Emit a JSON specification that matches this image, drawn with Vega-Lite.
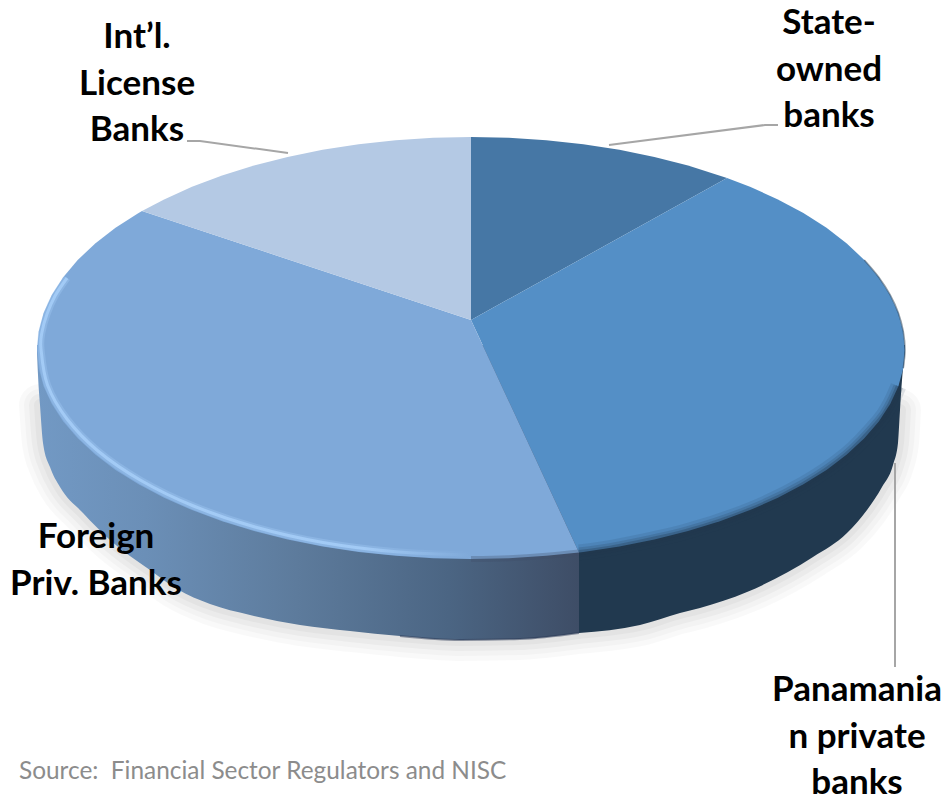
{
  "$schema": "https://vega.github.io/schema/vega-lite/v6.json",
  "width": 946,
  "height": 799,
  "padding": 0,
  "autosize": {"type": "none"},
  "background": "white",
  "view": {"stroke": null},
  "datasets": {
    "top": [
      {"slice":"State-owned","seq":0,"x":471,"y":320},{"slice":"State-owned","seq":1,"x":471,"y":137},{"slice":"State-owned","seq":2,"x":508.8,"y":137.8},{"slice":"State-owned","seq":3,"x":546.3,"y":140.2},{"slice":"State-owned","seq":4,"x":583.3,"y":144.3},{"slice":"State-owned","seq":5,"x":619.4,"y":149.8},{"slice":"State-owned","seq":6,"x":654.4,"y":157},{"slice":"State-owned","seq":7,"x":688,"y":165.5},{"slice":"State-owned","seq":8,"x":727,"y":178},
      {"slice":"Panamanian","seq":0,"x":471,"y":320},{"slice":"Panamanian","seq":1,"x":727,"y":178},{"slice":"Panamanian","seq":2,"x":750,"y":186.8},{"slice":"Panamanian","seq":3,"x":777.9,"y":199.4},{"slice":"Panamanian","seq":4,"x":803.4,"y":213.1},{"slice":"Panamanian","seq":5,"x":826.5,"y":227.8},{"slice":"Panamanian","seq":6,"x":846.8,"y":243.5},{"slice":"Panamanian","seq":7,"x":864.3,"y":260},{"slice":"Panamanian","seq":8,"x":878.8,"y":277.2},{"slice":"Panamanian","seq":9,"x":890.2,"y":294.9},{"slice":"Panamanian","seq":10,"x":898.4,"y":313},{"slice":"Panamanian","seq":11,"x":903.3,"y":331.4},{"slice":"Panamanian","seq":12,"x":905,"y":350},{"slice":"Panamanian","seq":13,"x":903.3,"y":368.2},{"slice":"Panamanian","seq":14,"x":898.4,"y":386.3},{"slice":"Panamanian","seq":15,"x":890.2,"y":404.1},{"slice":"Panamanian","seq":16,"x":878.8,"y":421.5},{"slice":"Panamanian","seq":17,"x":864.3,"y":438.3},{"slice":"Panamanian","seq":18,"x":846.8,"y":454.5},{"slice":"Panamanian","seq":19,"x":826.5,"y":469.9},{"slice":"Panamanian","seq":20,"x":803.4,"y":484.3},{"slice":"Panamanian","seq":21,"x":777.9,"y":497.8},{"slice":"Panamanian","seq":22,"x":750,"y":510.1},{"slice":"Panamanian","seq":23,"x":719.9,"y":521.2},{"slice":"Panamanian","seq":24,"x":688,"y":531},{"slice":"Panamanian","seq":25,"x":654.4,"y":539.4},{"slice":"Panamanian","seq":26,"x":619.4,"y":546.4},{"slice":"Panamanian","seq":27,"x":583.3,"y":551.9},{"slice":"Panamanian","seq":28,"x":579,"y":552.4},
      {"slice":"Foreign","seq":0,"x":471,"y":320},{"slice":"Foreign","seq":1,"x":579,"y":552.4},{"slice":"Foreign","seq":2,"x":546.3,"y":555.8},{"slice":"Foreign","seq":3,"x":508.8,"y":558.2},{"slice":"Foreign","seq":4,"x":471,"y":559},{"slice":"Foreign","seq":5,"x":433.2,"y":558.2},{"slice":"Foreign","seq":6,"x":395.7,"y":555.8},{"slice":"Foreign","seq":7,"x":358.7,"y":551.9},{"slice":"Foreign","seq":8,"x":322.6,"y":546.4},{"slice":"Foreign","seq":9,"x":287.6,"y":539.4},{"slice":"Foreign","seq":10,"x":254,"y":531},{"slice":"Foreign","seq":11,"x":222.1,"y":521.2},{"slice":"Foreign","seq":12,"x":192,"y":510.1},{"slice":"Foreign","seq":13,"x":164.1,"y":497.8},{"slice":"Foreign","seq":14,"x":138.6,"y":484.3},{"slice":"Foreign","seq":15,"x":115.5,"y":469.9},{"slice":"Foreign","seq":16,"x":95.2,"y":454.5},{"slice":"Foreign","seq":17,"x":77.7,"y":438.3},{"slice":"Foreign","seq":18,"x":63.2,"y":421.5},{"slice":"Foreign","seq":19,"x":51.8,"y":404.1},{"slice":"Foreign","seq":20,"x":43.6,"y":386.3},{"slice":"Foreign","seq":21,"x":38.7,"y":368.2},{"slice":"Foreign","seq":22,"x":37,"y":350},{"slice":"Foreign","seq":23,"x":38.7,"y":331.4},{"slice":"Foreign","seq":24,"x":43.6,"y":313},{"slice":"Foreign","seq":25,"x":51.8,"y":294.9},{"slice":"Foreign","seq":26,"x":63.2,"y":277.2},{"slice":"Foreign","seq":27,"x":77.7,"y":260},{"slice":"Foreign","seq":28,"x":95.2,"y":243.5},{"slice":"Foreign","seq":29,"x":115.5,"y":227.8},{"slice":"Foreign","seq":30,"x":138.6,"y":213.1},{"slice":"Foreign","seq":31,"x":142,"y":211},
      {"slice":"Intl","seq":0,"x":471,"y":320},{"slice":"Intl","seq":1,"x":142,"y":211},{"slice":"Intl","seq":2,"x":164.1,"y":199.4},{"slice":"Intl","seq":3,"x":192,"y":186.8},{"slice":"Intl","seq":4,"x":222.1,"y":175.5},{"slice":"Intl","seq":5,"x":254,"y":165.5},{"slice":"Intl","seq":6,"x":287.6,"y":157},{"slice":"Intl","seq":7,"x":322.6,"y":149.8},{"slice":"Intl","seq":8,"x":358.7,"y":144.3},{"slice":"Intl","seq":9,"x":395.7,"y":140.2},{"slice":"Intl","seq":10,"x":433.2,"y":137.8},{"slice":"Intl","seq":11,"x":471,"y":137}
    ],
    "foot": [
      {"slice":"Foreign","seq":0,"x":37,"y":352,"shoulder":345},{"slice":"Foreign","seq":1,"x":38,"y":375,"shoulder":345},{"slice":"Foreign","seq":2,"x":40,"y":405,"shoulder":345},{"slice":"Foreign","seq":3,"x":43,"y":443,"shoulder":345},{"slice":"Foreign","seq":4,"x":50,"y":467,"shoulder":345},{"slice":"Foreign","seq":5,"x":60,"y":487,"shoulder":345},{"slice":"Foreign","seq":6,"x":83,"y":513,"shoulder":345},{"slice":"Foreign","seq":7,"x":110,"y":540,"shoulder":345},{"slice":"Foreign","seq":8,"x":150,"y":570,"shoulder":345},{"slice":"Foreign","seq":9,"x":177,"y":589,"shoulder":345},{"slice":"Foreign","seq":10,"x":210,"y":604,"shoulder":345},{"slice":"Foreign","seq":11,"x":250,"y":615,"shoulder":345},{"slice":"Foreign","seq":12,"x":300,"y":625,"shoulder":345},{"slice":"Foreign","seq":13,"x":350,"y":631,"shoulder":345},{"slice":"Foreign","seq":14,"x":400,"y":636,"shoulder":345},{"slice":"Foreign","seq":15,"x":460,"y":640,"shoulder":345},{"slice":"Foreign","seq":16,"x":520,"y":639,"shoulder":345},{"slice":"Foreign","seq":17,"x":579,"y":633,"shoulder":345},
      {"slice":"Panamanian","seq":18,"x":579,"y":633,"shoulder":345},{"slice":"Panamanian","seq":19,"x":640,"y":625,"shoulder":345},{"slice":"Panamanian","seq":20,"x":680,"y":613,"shoulder":345},{"slice":"Panamanian","seq":21,"x":700,"y":608,"shoulder":345},{"slice":"Panamanian","seq":22,"x":747,"y":592,"shoulder":345},{"slice":"Panamanian","seq":23,"x":813,"y":557,"shoulder":345},{"slice":"Panamanian","seq":24,"x":847,"y":533,"shoulder":345},{"slice":"Panamanian","seq":25,"x":867,"y":510,"shoulder":345},{"slice":"Panamanian","seq":26,"x":882,"y":487,"shoulder":345},{"slice":"Panamanian","seq":27,"x":893,"y":465,"shoulder":345},{"slice":"Panamanian","seq":28,"x":898,"y":443,"shoulder":345},{"slice":"Panamanian","seq":29,"x":900,"y":410,"shoulder":345},{"slice":"Panamanian","seq":30,"x":902,"y":380,"shoulder":345},{"slice":"Panamanian","seq":31,"x":904,"y":360,"shoulder":345},{"slice":"Panamanian","seq":32,"x":905,"y":352,"shoulder":345}
    ],
    "glint": [
      {"seq":0,"x":67,"y":278},{"seq":1,"x":55,"y":296},{"seq":2,"x":47,"y":314},{"seq":3,"x":42,"y":332},{"seq":4,"x":41,"y":349},{"seq":5,"x":47.5,"y":385},{"seq":6,"x":67,"y":419},{"seq":7,"x":98,"y":451},{"seq":8,"x":141,"y":480.5},{"seq":9,"x":193.5,"y":506},{"seq":10,"x":255,"y":527},{"seq":11,"x":323,"y":542.5},{"seq":12,"x":396,"y":551.8},{"seq":13,"x":471,"y":555}
    ],
    "edge": [
      {"seq":0,"x":579,"y":552.4},{"seq":1,"x":619.4,"y":546.4},{"seq":2,"x":688,"y":531},{"seq":3,"x":750,"y":510.1},{"seq":4,"x":803.4,"y":484.3},{"seq":5,"x":846.8,"y":454.5},{"seq":6,"x":878.8,"y":421.5},{"seq":7,"x":890.2,"y":404.1},{"seq":8,"x":898.4,"y":386.3}
    ],
    "seam": [
      {"seq":0,"x":471,"y":559},{"seq":1,"x":508.8,"y":558.2},{"seq":2,"x":546.3,"y":555.8},{"seq":3,"x":579,"y":552.4}
    ],
    "crown": [
      {"seq":0,"x":903.3,"y":368.2},{"seq":1,"x":905,"y":350},{"seq":2,"x":903.3,"y":331.4},{"seq":3,"x":898.4,"y":313},{"seq":4,"x":890.2,"y":294.9},{"seq":5,"x":878.8,"y":277.2},{"seq":6,"x":864.3,"y":260}
    ],
    "leaders": [
      {"label":"Intl","seq":0,"x":187,"y":141},{"label":"Intl","seq":1,"x":200,"y":141},{"label":"Intl","seq":2,"x":288,"y":153},
      {"label":"State","seq":0,"x":778,"y":125},{"label":"State","seq":1,"x":765,"y":125},{"label":"State","seq":2,"x":609,"y":145},
      {"label":"Panamanian","seq":0,"x":895,"y":463},{"label":"Panamanian","seq":1,"x":895,"y":667}
    ],
    "labels": [
      {"text":"Int’l.\nLicense\nBanks","x":137,"y":37},
      {"text":"State-\nowned\nbanks","x":829,"y":23},
      {"text":"Foreign\nPriv. Banks","x":96,"y":537},
      {"text":"Panamania\nn private\nbanks","x":857,"y":690}
    ],
    "note": [{"text":"Source:\u00a0 Financial Sector Regulators and NISC","x":19,"y":772}]
  },
  "encoding": {
    "x": {"field":"x","type":"quantitative","axis":null,"scale":{"domain":[0,946],"nice":false,"zero":false}},
    "y": {"field":"y","type":"quantitative","axis":null,"scale":{"domain":[799,0],"nice":false,"zero":false}}
  },
  "layer": [
    {"description":"Soft ground shadow, built from widening translucent strokes along the foot of the wall",
     "data":{"name":"foot"},"transform":[{"filter":"datum.y >= 400"}],
     "mark":{"type":"line","stroke":"#000000","strokeWidth":42,"strokeCap":"round","opacity":0.025,"interpolate":"monotone"},
     "encoding":{"order":{"field":"seq","type":"quantitative"}}},
    {"data":{"name":"foot"},"transform":[{"filter":"datum.y >= 400"}],
     "mark":{"type":"line","stroke":"#000000","strokeWidth":32,"strokeCap":"round","opacity":0.025,"interpolate":"monotone"},
     "encoding":{"order":{"field":"seq","type":"quantitative"}}},
    {"data":{"name":"foot"},"transform":[{"filter":"datum.y >= 400"}],
     "mark":{"type":"line","stroke":"#000000","strokeWidth":22,"strokeCap":"round","opacity":0.03,"interpolate":"monotone"},
     "encoding":{"order":{"field":"seq","type":"quantitative"}}},
    {"data":{"name":"foot"},"transform":[{"filter":"datum.y >= 400"}],
     "mark":{"type":"line","stroke":"#000000","strokeWidth":12,"strokeCap":"round","opacity":0.03,"interpolate":"monotone"},
     "encoding":{"order":{"field":"seq","type":"quantitative"}}},
    {"description":"Side wall of the Foreign slice, darkening to the right",
     "data":{"name":"foot"},"transform":[{"filter":"datum.slice === 'Foreign'"}],
     "mark":{"type":"area","interpolate":"monotone","color":{"gradient":"linear","x1":0,"x2":1,"y1":0,"y2":0,"stops":[
        {"offset":0,"color":"#7299c4"},{"offset":0.2,"color":"#6b8fb7"},{"offset":0.48,"color":"#5d7b9c"},{"offset":0.76,"color":"#4b6583"},{"offset":1,"color":"#3e4d66"}]}},
     "encoding":{"y2":{"field":"shoulder"}}},
    {"description":"Side wall of the Panamanian slice",
     "data":{"name":"foot"},"transform":[{"filter":"datum.slice === 'Panamanian'"}],
     "mark":{"type":"area","interpolate":"monotone","color":"#21394f"},
     "encoding":{"y2":{"field":"shoulder"}}},
    {"description":"Darker lip along the foot of the Foreign wall",
     "data":{"name":"foot"},"transform":[{"filter":"datum.slice === 'Foreign' && datum.x >= 400"}],
     "mark":{"type":"line","interpolate":"monotone","strokeWidth":2,"opacity":0.5,"stroke":"#2b3a55"},
     "encoding":{"order":{"field":"seq","type":"quantitative"}}},
    {"description":"Top faces of the four slices",
     "data":{"name":"top"},
     "mark":{"type":"line","filled":true,"strokeWidth":0},
     "encoding":{
       "order":{"field":"seq","type":"quantitative"},
       "color":{"field":"slice","type":"nominal","legend":null,
         "scale":{"domain":["State-owned","Panamanian","Foreign","Intl"],"range":["#4677a5","#548fc6","#7fa9d9","#b4c9e4"]}}}},
    {"description":"Bevel glint on the near-left rim, fading out toward the front",
     "data":{"name":"glint"},
     "mark":{"type":"line","interpolate":"cardinal","strokeWidth":7,"opacity":0.3,"stroke":{"gradient":"linear","x1":0,"x2":1,"y1":0,"y2":0,"stops":[
        {"offset":0,"color":"#a8d0fa"},{"offset":0.75,"color":"#a8d0fa"},{"offset":1,"color":"#7fa9d9"}]}},
     "encoding":{"order":{"field":"seq","type":"quantitative"}}},
    {"data":{"name":"glint"},
     "mark":{"type":"line","interpolate":"cardinal","strokeWidth":3,"opacity":0.8,"stroke":{"gradient":"linear","x1":0,"x2":1,"y1":0,"y2":0,"stops":[
        {"offset":0,"color":"#a8d0fa"},{"offset":0.75,"color":"#a8d0fa"},{"offset":1,"color":"#7fa9d9"}]}},
     "encoding":{"order":{"field":"seq","type":"quantitative"}}},
    {"description":"Dark bevel on the near-right rim",
     "data":{"name":"edge"},
     "mark":{"type":"line","interpolate":"cardinal","strokeWidth":16,"opacity":0.12,"stroke":"#21394f"},
     "encoding":{"order":{"field":"seq","type":"quantitative"}}},
    {"data":{"name":"edge"},
     "mark":{"type":"line","interpolate":"cardinal","strokeWidth":10,"opacity":0.18,"stroke":"#21394f"},
     "encoding":{"order":{"field":"seq","type":"quantitative"}}},
    {"data":{"name":"edge"},
     "mark":{"type":"line","interpolate":"cardinal","strokeWidth":5,"opacity":0.3,"stroke":"#21394f"},
     "encoding":{"order":{"field":"seq","type":"quantitative"}}},
    {"description":"Soft seam where the Foreign face meets its wall at the front",
     "data":{"name":"seam"},
     "mark":{"type":"line","interpolate":"cardinal","strokeWidth":6,"opacity":0.3,"stroke":"#3e4d66"},
     "encoding":{"order":{"field":"seq","type":"quantitative"}}},
    {"data":{"name":"crown"},
     "mark":{"type":"line","interpolate":"cardinal","strokeWidth":1.5,"opacity":0.5,"stroke":"#21394f"},
     "encoding":{"order":{"field":"seq","type":"quantitative"}}},
    {"description":"Leader lines",
     "data":{"name":"leaders"},
     "mark":{"type":"line","stroke":"#a6a6a6","strokeWidth":2},
     "encoding":{"detail":{"field":"label"},"order":{"field":"seq","type":"quantitative"}}},
    {"description":"Slice labels",
     "data":{"name":"labels"},
     "mark":{"type":"text","font":"Lato","fontWeight":"bold","fontSize":35,"align":"center","baseline":"middle","lineBreak":"\n","lineHeight":46.5,"color":"#000000"},
     "encoding":{"text":{"field":"text"}}},
    {"description":"Source note",
     "data":{"name":"note"},
     "mark":{"type":"text","font":"Lato","fontSize":24.4,"align":"left","baseline":"middle","color":"#8c8c8c"},
     "encoding":{"text":{"field":"text"}}}
  ]
}
